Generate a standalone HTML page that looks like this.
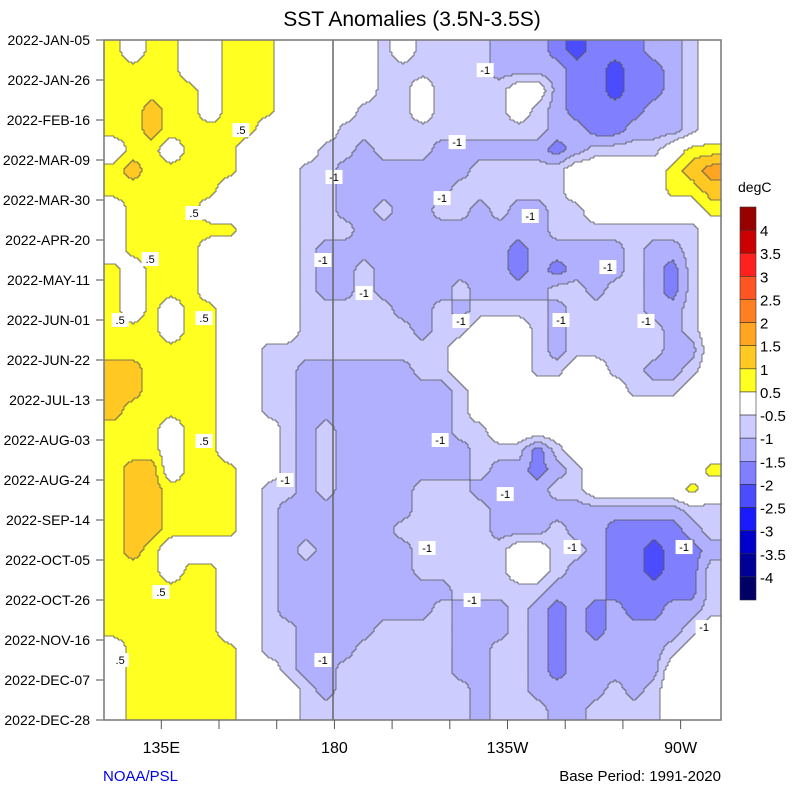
<!DOCTYPE html>
<html><head><meta charset="utf-8"><title>SST Anomalies</title>
<style>
html,body{margin:0;padding:0;background:#fff;}
svg{display:block;font-family:"Liberation Sans",Arial,sans-serif;}
</style></head>
<body>
<svg id="chart" width="800" height="800" viewBox="0 0 800 800">
  <rect x="0" y="0" width="800" height="800" fill="#fff"/>
  <text x="412" y="26" font-size="21" text-anchor="middle" fill="#000">SST Anomalies (3.5N-3.5S)</text>
  <g id="field"></g>
  <g id="contours"></g>
  <g id="labels"></g>
  <line x1="333" y1="40" x2="333" y2="720" stroke="#666" stroke-width="1.5"/>
  <rect x="104" y="40" width="617" height="680" fill="none" stroke="#777" stroke-width="1.5"/>
  <g id="yaxis"></g>
  <g id="xaxis"></g>
  <text x="738" y="192" font-size="14" fill="#000">degC</text>
  <g id="colorbar"></g>
  <text x="103" y="781" font-size="15" fill="#0000ee">NOAA/PSL</text>
  <text x="721" y="781" font-size="15" fill="#000" text-anchor="end">Base Period: 1991-2020</text>
</svg>
<script>
// ---- data ----
const dateLabels = ['2022-JAN-05','2022-JAN-26','2022-FEB-16','2022-MAR-09','2022-MAR-30','2022-APR-20','2022-MAY-11','2022-JUN-01','2022-JUN-22','2022-JUL-13','2022-AUG-03','2022-AUG-24','2022-SEP-14','2022-OCT-05','2022-OCT-26','2022-NOV-16','2022-DEC-07','2022-DEC-28'];
const lonTicks = [135,180,225,270];
const lonTickLabels = ['135E','180','135W','90W'];
const lonMinorTicks = [135,150,165,180,195,210,225,240,255,270];
const lonMin = 120.1, lonMax = 280.5;
const colorbarLabels = ['4','3.5','3','2.5','2','1.5','1','0.5','-0.5','-1','-1.5','-2','-2.5','-3','-3.5','-4'];
// anomaly codes per row (time, top->bottom), per column (lon, west->east)
const codeKeys = ['.','y','o','O','r','a','b','c','d'];
const codeVals = [0, 0.75, 1.25, 1.75, 2.25, -0.75, -1.25, -1.75, -2.25];
const rows = [
"y.yy..yyy.....a.aaaabbbcdcccbba.",
"yyyy..yyy.....aaaaaabbbbccdccba.",
"yyyyy.yyy.....aa.aaaa..bccdccba.",
"yyoyy.yyy....aaa.aaaa.abccccbba.",
"yyoyyyyy....aaaaaaaaaaabbccbbba.",
".yy.yyy....aabaaabbbbbbcbaaaa.yy",
"yoyyyyy...aabbbbbbbaaaaa.....yoO",
"yyyyyy....aabbbbbbaaaaaa.....yyo",
".yyyy.....aabbabbaababbaa......y",
".yyyyyy...aaabbbbbbbbbbaaaaaaaa.",
".yyyy.....abbbbbbbbbbcbbbbbabba.",
"y.yyy.....abbabbbbbbbcbcbbbabca.",
"y.yyy.....abbabbbbabbbbaabaabca.",
"y.y.yy....aaaaabbabaaaabaaaabba.",
"yyy.yy....aaaaaabaa...abaaaaaba.",
"yyyyyy..aaaaaaaaaa....abaaaaabb.",
"ooyyyy..aabbbbbbaa....aa..aabba.",
"ooyyyy..aabbbbbbbba........aaa..",
"oyyyyy..aabbbbbbbba.............",
"yyy.yy...ababbbbbbaa............",
"yyy.yy...ababbbbbbbaaaca........",
"yoo.yyy..ababbbbbbbabbcba......y",
"yooyyyy.aababbbbaaabbbbaa.....y.",
"yooyyyy.abbbbbbbaaaabbbbbbbbbbaa",
"yooyyyy.abbbbbbaaaaabbbabbccccba",
"yoy.....ababbbbbaaaaa..aabccdccb",
"yyy.yy..abbbbbbbaaaaa..abbccdcca",
"yyyyyy..abbbbbbbbbaaaaabbbccccca",
"yyyyyy..abbbbbbbbabbbabcbcbccbba",
"yyyyyy..aabbbbaaaabbbabcbcbbbba.",
".yyyyyy.aabbbaaaaabbaabcbbbbba..",
".yyyyyy..abbaaaaaabbaabcbbbbb...",
".yyyyyy...abaaaaaaabaabbbbaba...",
".yyyyyy...aaaaaaaaabaaabbaaaa..."
];
const labelTexts = ['.5','.5','.5','.5','.5','.5','.5','.5','-1','-1','-1','-1','-1','-1','-1','-1','-1','-1','-1','-1','-1','-1','-1','-1','-1','-1','-1','-1'];
const labelLons = [155.7,143.5,132.1,124.3,146.1,146.1,134.9,124.3,219.2,211.9,179.9,208.0,230.9,251.1,177.0,187.7,212.9,238.9,261.0,207.5,167.2,224.4,204.1,241.8,270.9,215.8,276.1,177.0];
const labelDates = [47.3,90.8,115,147,146,210.5,289.8,325.5,15.8,53.6,71.9,83,92.4,119.2,115.5,132.8,147.5,147,147.5,210,231,238.4,266.7,266.2,266.2,294,308.2,325.5];

// ---- scales ----
const X0 = 104, X1 = 721, Y0 = 40, Y1 = 720;
function xScale(lon){ return X0 + (lon - lonMin) / (lonMax - lonMin) * (X1 - X0); }
function yScale(day){ return Y0 + day / 357 * (Y1 - Y0); }
const NS = 'http://www.w3.org/2000/svg';
function mk(tag, attrs, parent){ const e = document.createElementNS(NS, tag); for (const k in attrs) e.setAttribute(k, attrs[k]); parent.appendChild(e); return e; }

const warm = ['#ffff22','#ffc822','#ffa522','#ff7f22','#ff5522','#ff2020','#cc0000','#990000'];
const cold = ['#ccccff','#b0b0ff','#8080ff','#4c4cff','#1a1aff','#0000cc','#000099','#000066'];
function classFor(v){
  if (v >= 0.5) return 1 + Math.min(7, Math.floor((v - 0.5) / 0.5));
  if (v <= -0.5) return -1 - Math.min(7, Math.floor((-v - 0.5) / 0.5));
  return 0;
}
function colorOfClass(k){ return k > 0 ? warm[k - 1] : (k < 0 ? cold[-k - 1] : '#ffffff'); }

// ---- field ----
const nR = rows.length, nC = rows[0].length;
const grid = rows.map(r => r.split('').map(ch => codeVals[codeKeys.indexOf(ch)]));
const cw = (X1 - X0) / nC, ch = (Y1 - Y0) / nR;
function sample(px, py){
  let fx = (px - X0) / cw - 0.5, fy = (py - Y0) / ch - 0.5;
  fx = Math.max(0, Math.min(nC - 1, fx)); fy = Math.max(0, Math.min(nR - 1, fy));
  const i0 = Math.floor(fx), j0 = Math.floor(fy);
  const i1 = Math.min(nC - 1, i0 + 1), j1 = Math.min(nR - 1, j0 + 1);
  const tx = fx - i0, ty = fy - j0;
  const a = grid[j0][i0] * (1 - tx) + grid[j0][i1] * tx;
  const b = grid[j1][i0] * (1 - tx) + grid[j1][i1] * tx;
  return a * (1 - ty) + b * ty;
}
const field = document.getElementById('field');
const STEP = 2;
const nx = Math.ceil((X1 - X0) / STEP), ny = Math.ceil((Y1 - Y0) / STEP);
const cls = [];
for (let j = 0; j < ny; j++){
  const row = [];
  for (let i = 0; i < nx; i++) row.push(classFor(sample(X0 + i * STEP + STEP / 2, Y0 + j * STEP + STEP / 2)));
  cls.push(row);
}
for (let j = 0; j < ny; j++){
  let start = 0;
  for (let i = 1; i <= nx; i++){
    if (i === nx || cls[j][i] !== cls[j][start]){
      const k = cls[j][start];
      if (k !== 0){
        const x = X0 + start * STEP, w = Math.min(X1, X0 + i * STEP) - x;
        const r = mk('rect', {x: x, y: Y0 + j * STEP, width: w, height: STEP, fill: colorOfClass(k)}, field);
        
        
      }
      start = i;
    }
  }
}
// contour boundaries
let d = '';
for (let j = 0; j < ny; j++){
  for (let i = 0; i < nx; i++){
    const k = cls[j][i];
    if (i + 1 < nx && cls[j][i + 1] !== k){ const x = X0 + (i + 1) * STEP; d += 'M' + x + ' ' + (Y0 + j * STEP) + 'v' + STEP; }
    if (j + 1 < ny && cls[j + 1][i] !== k){ const y = Y0 + (j + 1) * STEP; d += 'M' + (X0 + i * STEP) + ' ' + y + 'h' + STEP; }
  }
}
const cp = mk('path', {d: d, stroke: '#555', 'stroke-width': 0.8, fill: 'none'}, document.getElementById('contours'));



// ---- contour labels ----
const labels = document.getElementById('labels');
labelTexts.forEach((t, i) => {
  const x = xScale(labelLons[i]), y = yScale(labelDates[i]);
  const w = t.length * 7 + 3;
  const r = mk('rect', {x: x - w / 2, y: y - 7, width: w, height: 14, fill: '#fff'}, labels);
  
  
  const tx = mk('text', {x: x, y: y + 4, 'font-size': 11, 'text-anchor': 'middle', fill: '#000'}, labels);
  tx.textContent = t;
  
  
});

// ---- y axis ----
const yaxis = document.getElementById('yaxis');
dateLabels.forEach((dl, i) => {
  const y = Y0 + i * (Y1 - Y0) / (dateLabels.length - 1);
  const l = mk('line', {x1: 96, x2: X0, y1: y, y2: y, stroke: '#888', 'stroke-width': 1.5}, yaxis);
  
  
  const t = mk('text', {x: 90, y: y + 5, 'font-size': 14, 'text-anchor': 'end', fill: '#000'}, yaxis);
  t.textContent = dl;
  
  
});

// ---- x axis ----
const xaxis = document.getElementById('xaxis');
lonMinorTicks.forEach(lon => {
  const x = xScale(lon);
  const l = mk('line', {x1: x, x2: x, y1: Y1, y2: Y1 + 9, stroke: '#555', 'stroke-width': 1}, xaxis);
  
  
});
lonTicks.forEach((lon, i) => {
  const x = xScale(lon);
  const t = mk('text', {x: x, y: 753, 'font-size': 16, 'text-anchor': 'middle', fill: '#000'}, xaxis);
  t.textContent = lonTickLabels[i];
  
  
});

// ---- colorbar ----
const cb = document.getElementById('colorbar');
const cbColors = warm.slice().reverse().concat(['#ffffff']).concat(cold);
const cbTop = 207, cbBot = 600, cbH = (cbBot - cbTop) / cbColors.length;
cbColors.forEach((c, i) => {
  const r = mk('rect', {x: 740, y: cbTop + i * cbH, width: 16, height: cbH, fill: c, stroke: '#333', 'stroke-width': 0.6}, cb);
  
  
});
colorbarLabels.forEach((t, i) => {
  const y = cbTop + (i + 1) * cbH;
  const tx = mk('text', {x: 760, y: y + 6, 'font-size': 15, fill: '#000'}, cb);
  tx.textContent = t;
  
  
});
</script>
</body></html>
